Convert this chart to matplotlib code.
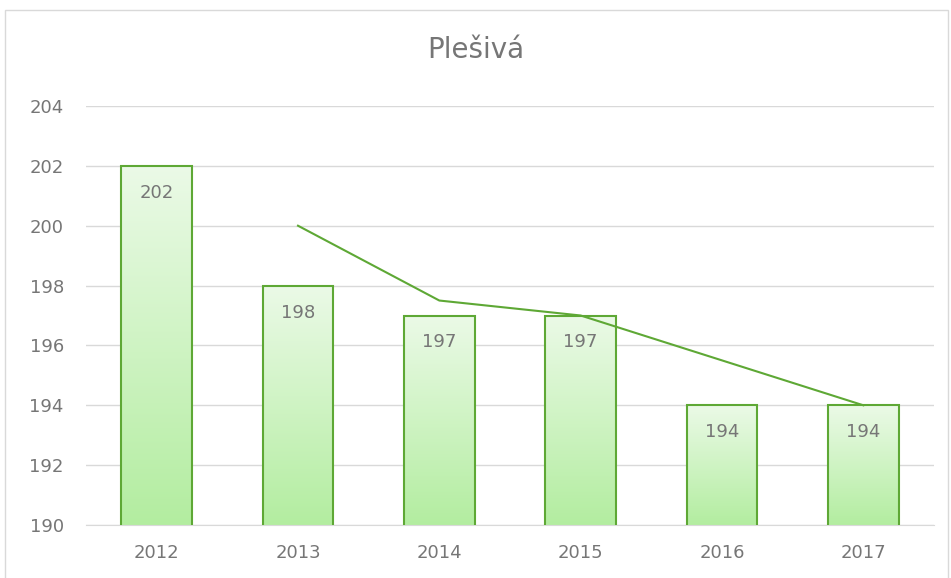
import matplotlib
matplotlib.use("Agg")
import matplotlib.pyplot as plt
import numpy as np
from matplotlib.colors import LinearSegmentedColormap
from matplotlib.patches import Rectangle

years = ["2012", "2013", "2014", "2015", "2016", "2017"]
values = [202, 198, 197, 197, 194, 194]
trend = [None, 200, 197.5, 197, 195.5, 194]  # 2-period moving average
yticks = [190, 192, 194, 196, 198, 200, 202, 204]

plt.rcParams['font.family'] = ['DejaVu Sans']
fig = plt.figure(figsize=(9.51, 5.78), dpi=100)
ax = fig.add_axes([86/951, 1-525/578, (934-86)/951, (525-106)/578])

x = np.arange(len(years))
bars = ax.bar(x, values, width=0.5, bottom=0, color='none', edgecolor='#5ea835',
              linewidth=1.5, zorder=3)
cmap = LinearSegmentedColormap.from_list('g', ['#b3eda0', '#ebfae7'])
grad = np.linspace(0, 1, 256).reshape(-1, 1)
for b, v in zip(bars, values):
    x0 = b.get_x(); w = b.get_width()
    im = ax.imshow(grad, cmap=cmap, origin='lower', aspect='auto',
                   extent=[x0, x0 + w, 190, v], zorder=2)
    im.set_clip_path(b)
    ax.text(b.get_x() + w / 2, v - 0.9, str(v), ha='center', va='center',
            fontsize=13, color='#767676', zorder=5)

tx = [i for i, t in enumerate(trend) if t is not None]
ty = [t for t in trend if t is not None]
ax.plot(tx, ty, color='#5ea835', linewidth=1.5, zorder=4)

ax.set_xlim(-0.5, len(years) - 0.5)
ax.set_ylim(190, 204)
ax.set_yticks(yticks)
ax.set_xticks(x)
ax.set_xticklabels(years)
ax.grid(axis='y', color='#d9d9d9', linewidth=1, zorder=0)
ax.set_axisbelow(True)
for s in ['top', 'right', 'left']:
    ax.spines[s].set_visible(False)
ax.spines['bottom'].set_color('#d9d9d9')
ax.tick_params(axis='both', length=0, labelsize=13, labelcolor='#767676')
ax.tick_params(axis='y', pad=16)
ax.tick_params(axis='x', pad=14)

fig.text(0.5, 1 - 50/578, "Plešivá", ha='center', va='center', fontsize=20, color='#767676')
fig.patches.append(Rectangle((5/951, -0.01), (948-5)/951, 1 - 10/578 + 0.01,
                             transform=fig.transFigure, fill=False,
                             edgecolor='#d9d9d9', linewidth=1))
fig.savefig("out.png", dpi=100)
